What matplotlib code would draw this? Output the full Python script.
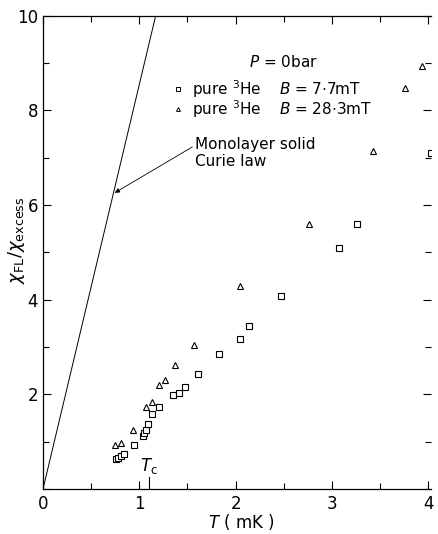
import numpy as np
import matplotlib
matplotlib.use("Agg")
from matplotlib import pyplot as plt
from matplotlib.ticker import MultipleLocator

# pure 3He, B = 7.7 mT (squares)
T_sq = [0.76, 0.775, 0.81, 0.845, 0.94, 1.035, 1.05, 1.07, 1.085, 1.13, 1.205,
        1.35, 1.415, 1.47, 1.605, 1.83, 2.05, 2.14, 2.47, 3.07, 3.265, 4.03]
chi_sq = [0.63, 0.66, 0.70, 0.74, 0.93, 1.11, 1.18, 1.24, 1.38, 1.58, 1.73,
          1.98, 2.03, 2.15, 2.43, 2.85, 3.17, 3.45, 4.07, 5.10, 5.61, 7.10]

# pure 3He, B = 28.3 mT (triangles)
T_tri = [0.75, 0.81, 0.93, 1.065, 1.13, 1.20, 1.265, 1.37, 1.57, 2.05,
         2.76, 3.43, 3.76, 3.94]
chi_tri = [0.92, 0.97, 1.25, 1.73, 1.83, 2.20, 2.31, 2.63, 3.05, 4.29,
           5.61, 7.15, 8.47, 8.95]

# monolayer solid Curie law
curie_T = [0.0, 1.2]
curie_slope = 8.55

Tc = 1.10

xticks = [0, 1, 2, 3, 4]
yticks = [2, 4, 6, 8, 10]

plt.rcParams['font.family'] = ['DejaVu Sans']
fig = plt.figure(figsize=(4.39, 5.34), dpi=100)
ax = fig.add_axes([0.098, 0.0843, 0.884, 0.886])

ax.plot(curie_T, [t * curie_slope for t in curie_T], color='black', lw=0.7)
ax.plot(T_sq, chi_sq, ls='none', marker='s', ms=3.8, mfc='white', mec='black', mew=0.8)
ax.plot(T_tri, chi_tri, ls='none', marker='^', ms=4.2, mfc='white', mec='black', mew=0.8)

ax.set_xlim(0, 4.03)
ax.set_ylim(0, 10)
ax.set_xticks(xticks)
ax.set_xticklabels([str(t) for t in xticks])
ax.xaxis.set_minor_locator(MultipleLocator(0.5))
ax.set_yticks(yticks)
ax.set_yticklabels([str(t) for t in yticks])
ax.yaxis.set_minor_locator(MultipleLocator(1))
ax.tick_params(which='both', direction='in', top=True, right=True, labelsize=12, width=0.8)
ax.tick_params(which='major', length=6)
ax.tick_params(which='minor', length=4)
ax.tick_params(axis='x', pad=4)
ax.spines['right'].set_visible(False)
for s in ['left', 'bottom', 'top']:
    ax.spines[s].set_linewidth(0.9)

# Tc tick
ax.plot([Tc, Tc], [0, 0.25], color='black', lw=0.8)
ax.text(Tc, 0.38, r'$T_\mathrm{c}$', fontsize=12, ha='center')

ax.set_xlabel(r'$T$ ( mK )', fontsize=12)
ax.xaxis.set_label_coords(0.51, -0.048)
ax.set_ylabel(r'$\chi_\mathrm{FL}/\chi_\mathrm{excess}$', fontsize=13)
ax.yaxis.set_label_coords(-0.04, 0.526)

ax.text(2.5, 9.03, r'$P$ = 0bar', fontsize=11, ha='center', va='center')
ax.plot([1.40], [8.45], ls='none', marker='s', ms=2.5, mfc='white', mec='black', mew=0.7)
ax.plot([1.40], [8.03], ls='none', marker='^', ms=2.8, mfc='white', mec='black', mew=0.7)
ax.text(1.55, 8.45, r'pure $^3$He', fontsize=11, va='center')
ax.text(1.55, 8.03, r'pure $^3$He', fontsize=11, va='center')
ax.text(2.45, 8.45, r'$B$ = 7$\cdot$7mT', fontsize=11, va='center')
ax.text(2.45, 8.03, r'$B$ = 28$\cdot$3mT', fontsize=11, va='center')

ax.annotate('Monolayer solid\nCurie law', xy=(0.745, 6.26), xytext=(1.58, 7.1),
            fontsize=11, va='center', linespacing=1.1,
            arrowprops=dict(arrowstyle='-|>', color='black', lw=0.6,
                            mutation_scale=7, shrinkA=0, shrinkB=0,
                            relpos=(0, 0.75)))

fig.savefig('out.png', dpi=100)
